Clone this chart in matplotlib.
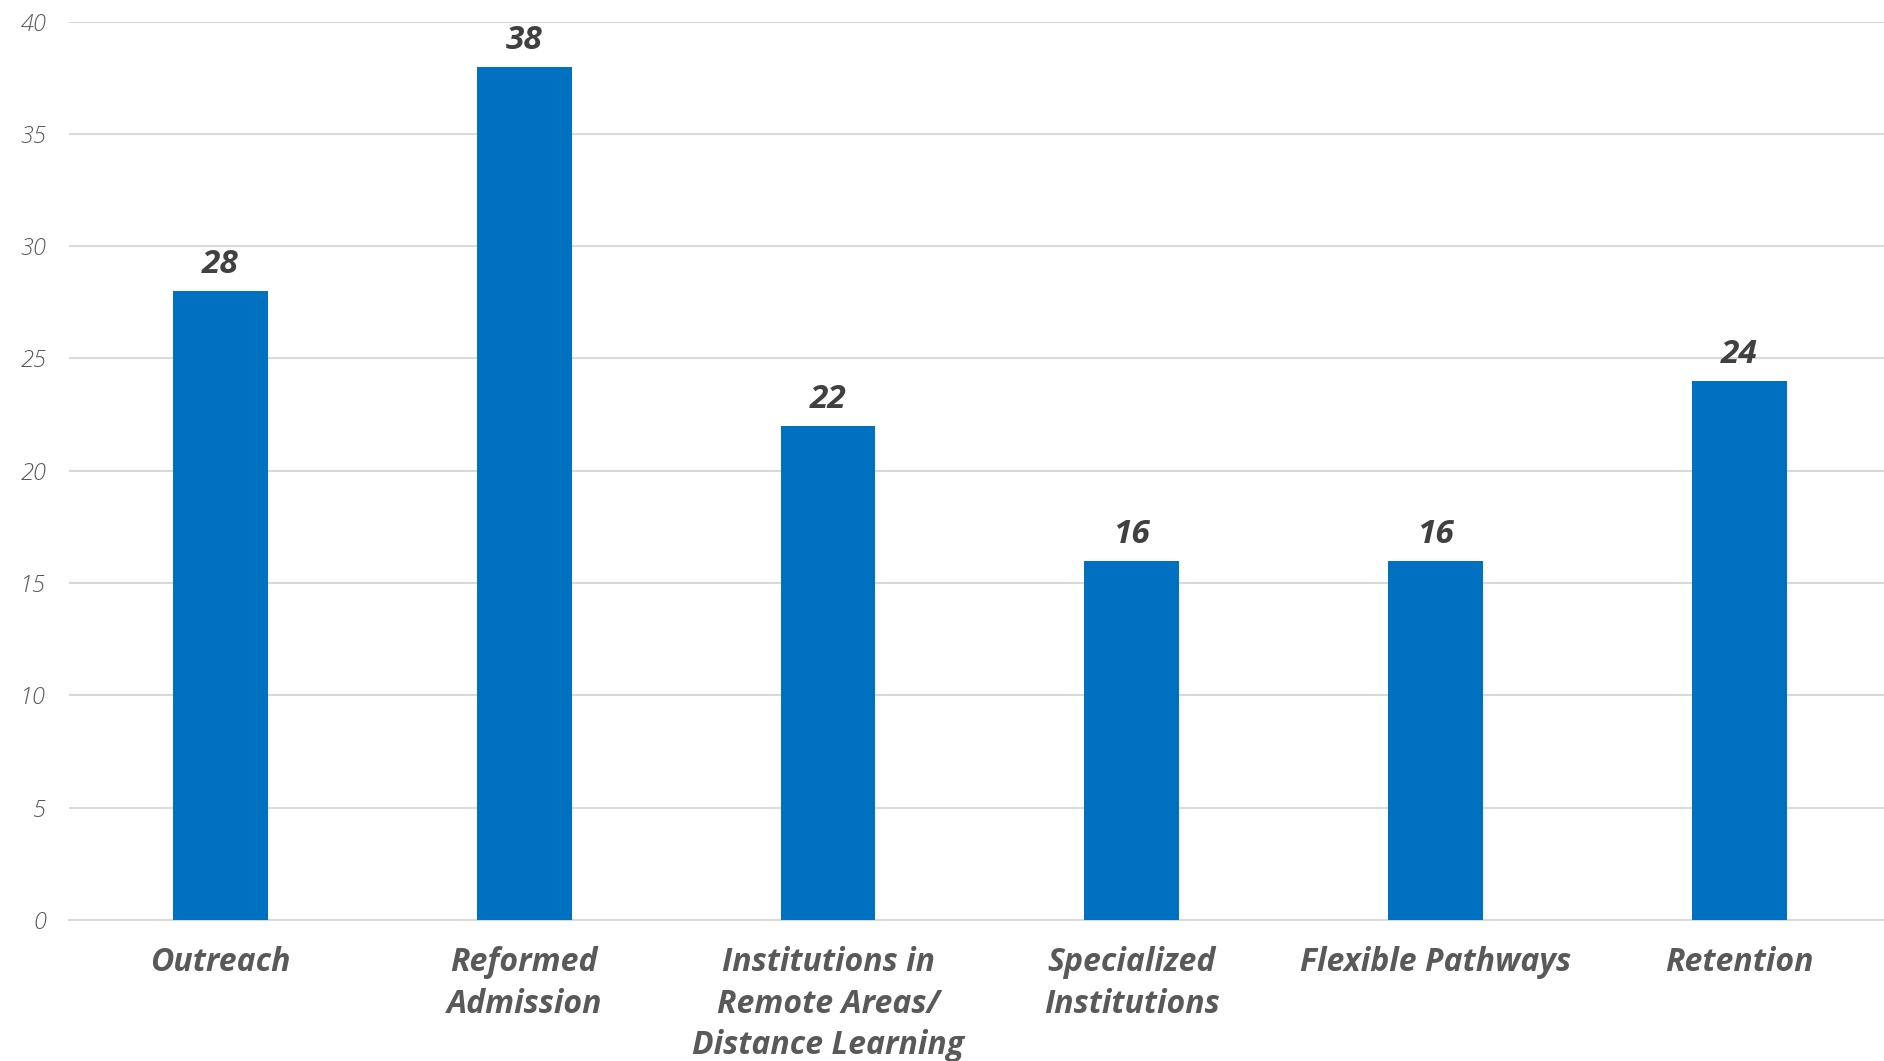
import matplotlib
matplotlib.use("Agg")
import matplotlib.pyplot as plt

# values
categories = [
    "Outreach",
    "Reformed\nAdmission",
    "Institutions in\nRemote Areas/\nDistance Learning",
    "Specialized\nInstitutions",
    "Flexible Pathways",
    "Retention",
]
counts = [28, 38, 22, 16, 16, 24]
y_ticks = [0, 5, 10, 15, 20, 25, 30, 35, 40]

BAR_COLOR = "#0070C0"
GRID_COLOR = "#D9D9D9"
FONT = ["Open Sans", "DejaVu Sans"]

plt.rcParams["font.family"] = FONT

fig = plt.figure(figsize=(18.84, 10.61), dpi=100)
ax = fig.add_axes([0.0364, 0.133, 0.9636, 0.8466])

x = list(range(len(categories)))
bars = ax.bar(x, counts, width=0.312, color=BAR_COLOR, zorder=3)

for rect, v in zip(bars, counts):
    ax.annotate(str(v), (rect.get_x() + rect.get_width() / 2, v),
                xytext=(0, 7), textcoords="offset points",
                ha="center", va="bottom", fontsize=24, fontweight="bold",
                fontstyle="italic", color="#404040")

ax.set_xlim(-0.5, 5.476)
ax.set_ylim(0, 40)
ax.set_yticks(y_ticks)
ax.set_yticklabels([str(t) for t in y_ticks], fontsize=17, fontstyle="italic",
                   color="#595959", fontweight="light")
ax.set_xticks(x)
ax.set_xticklabels(categories, fontsize=23, fontweight="bold", fontstyle="italic",
                   color="#595959", linespacing=1.34)
ax.tick_params(axis="both", length=0)
ax.tick_params(axis="y", pad=16)
ax.tick_params(axis="x", pad=19)

ax.yaxis.grid(True, color=GRID_COLOR, linewidth=1.5, zorder=0)
for side in ["top", "right", "left"]:
    ax.spines[side].set_visible(False)
ax.spines["bottom"].set_color(GRID_COLOR)
ax.spines["bottom"].set_linewidth(1.5)

fig.savefig("out.png", dpi=100)
